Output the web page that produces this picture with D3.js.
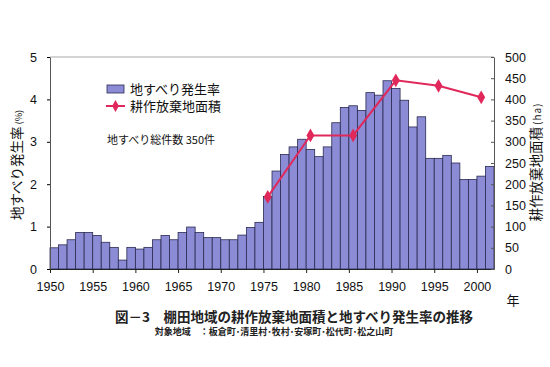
<!DOCTYPE html>
<html><head><meta charset="utf-8">
<script src="https://cdn.jsdelivr.net/npm/d3@7"></script>
<style>body{margin:0;background:#fff}svg{display:block}</style>
</head><body>
<script>
const years = d3.range(1950, 2002);
const rates = [0.50,0.57,0.69,0.86,0.86,0.79,0.63,0.51,0.21,0.51,
  0.47,0.51,0.69,0.79,0.69,0.86,0.99,0.86,0.74,0.74,
  0.69,0.69,0.80,0.98,1.10,1.71,2.31,2.70,2.88,3.06,
  2.82,2.65,2.88,3.45,3.81,3.85,3.74,4.16,4.10,4.44,
  4.26,3.98,3.35,3.59,2.61,2.61,2.68,2.50,2.11,2.11,
  2.19,2.42];
const areaYears = [1975,1980,1985,1990,1995,2000];
const areas = [170,315,315,445,432,405];
const leftTicks = [0,1,2,3,4,5];
const rightTicks = [0,50,100,150,200,250,300,350,400,450,500];
const xTicks = [1950,1955,1960,1965,1970,1975,1980,1985,1990,1995,2000];

const W=550,H=367;
const svg = d3.select("body").append("svg").attr("width",W).attr("height",H);
const L=50,R=494,T=57,B=269;
const x = d3.scaleLinear().domain([1950,2002]).range([L,R]);
const yL = d3.scaleLinear().domain([0,5]).range([B,T]);
const yR = d3.scaleLinear().domain([0,500]).range([B,T]);
const numFont = "'Liberation Sans', Arial, sans-serif";
const jpFont = "'Noto Sans CJK JP', sans-serif";

// frame
svg.append("line").attr("x1",L).attr("x2",R).attr("y1",T).attr("y2",T).attr("stroke","#aaa").attr("stroke-width",1);

// bars
svg.append("g").selectAll("rect").data(years).join("rect")
  .attr("x",d=>x(d)).attr("width",d=>x(d+1)-x(d))
  .attr("y",(d,i)=>yL(rates[i])).attr("height",(d,i)=>B-yL(rates[i]))
  .attr("fill","#8c8cd6").attr("stroke","#2a2a50").attr("stroke-width",0.8);

// axes
const gx = svg.append("g").attr("transform",`translate(0,${B})`)
  .call(d3.axisBottom(x).tickValues(xTicks).tickFormat(d3.format("d")).tickSize(4).tickSizeOuter(0));
gx.selectAll("text").attr("font-family",numFont).attr("font-size",12.5).attr("fill","#111").attr("y",13).attr("dy","0.71em");
gx.select(".domain").attr("stroke","#222");
gx.selectAll(".tick line").attr("stroke","#222");

const gl = svg.append("g").attr("transform",`translate(${L},0)`)
  .call(d3.axisLeft(yL).tickValues(leftTicks).tickSize(3).tickSizeOuter(0).tickFormat(d3.format("d")));
gl.selectAll("text").attr("font-family",numFont).attr("font-size",12.5).attr("fill","#111").attr("x",-13);
gl.select(".domain").attr("stroke","#555");

const gr = svg.append("g").attr("transform",`translate(${R},0)`)
  .call(d3.axisRight(yR).tickValues(rightTicks).tickSize(-3).tickSizeOuter(0));
gr.selectAll("text").attr("font-family",numFont).attr("font-size",12.5).attr("fill","#111").attr("x",11);
gr.select(".domain").attr("stroke","#555");
gr.selectAll(".tick line").attr("stroke","#555");

// line
const lineColor = "#e0285a";
const pts = areaYears.map((yr,i)=>[x(yr+0.5), yR(areas[i])]);
svg.append("path").attr("d",d3.line()(pts)).attr("fill","none").attr("stroke",lineColor).attr("stroke-width",2);
svg.append("g").selectAll("path").data(pts).join("path")
  .attr("d",d3.symbol(d3.symbolDiamond,55)).attr("transform",d=>`translate(${d[0]},${d[1]})`)
  .attr("fill",lineColor);

// axis titles
const lt = svg.append("text").attr("transform","translate(22,165) rotate(-90)").attr("text-anchor","middle")
  .attr("font-family",jpFont).attr("font-size",13.5).attr("fill","#111");
lt.append("tspan").text("地すべり発生率");
lt.append("tspan").attr("font-size",9).attr("dx",2).text("(%)");
const rt = svg.append("text").attr("transform","translate(541,162) rotate(-90)").attr("text-anchor","middle")
  .attr("font-family",jpFont).attr("font-size",13.5).attr("fill","#111");
rt.append("tspan").text("耕作放棄地面積");
rt.append("tspan").attr("font-size",10).attr("dx",2).attr("letter-spacing",1).text("(ha)");

// legend
svg.append("rect").attr("x",107).attr("y",85).attr("width",17).attr("height",8)
  .attr("fill","#8c8cd6").attr("stroke","#2a2a50").attr("stroke-width",0.8);
svg.append("text").attr("x",130).attr("y",93.5).attr("font-family",jpFont).attr("font-size",13).attr("fill","#111").text("地すべり発生率");
svg.append("line").attr("x1",106).attr("x2",125).attr("y1",106).attr("y2",106).attr("stroke",lineColor).attr("stroke-width",2);
svg.append("path").attr("d",d3.symbol(d3.symbolDiamond,40)).attr("transform","translate(115.5,106)").attr("fill",lineColor);
svg.append("text").attr("x",130).attr("y",111).attr("font-family",jpFont).attr("font-size",13).attr("fill","#111").text("耕作放棄地面積");
svg.append("text").attr("x",107).attr("y",144).attr("font-family",jpFont).attr("font-size",11).attr("fill","#111").text("地すべり総件数 350件");

// year label, title
svg.append("text").attr("x",513).attr("y",305).attr("text-anchor","middle").attr("font-family",jpFont).attr("font-size",13).attr("fill","#111").text("年");
svg.append("text").attr("x",294).attr("y",322).attr("text-anchor","middle").attr("font-family",jpFont).attr("font-weight","bold").attr("font-size",13.5).attr("fill","#222").text("図－3　棚田地域の耕作放棄地面積と地すべり発生率の推移");
svg.append("text").attr("x",274).attr("y",335).attr("text-anchor","middle").attr("font-family",jpFont).attr("font-weight","bold").attr("font-size",9).attr("fill","#222").text("対象地域　：板倉町･清里村･牧村･安塚町･松代町･松之山町");
</script>
</body></html>
